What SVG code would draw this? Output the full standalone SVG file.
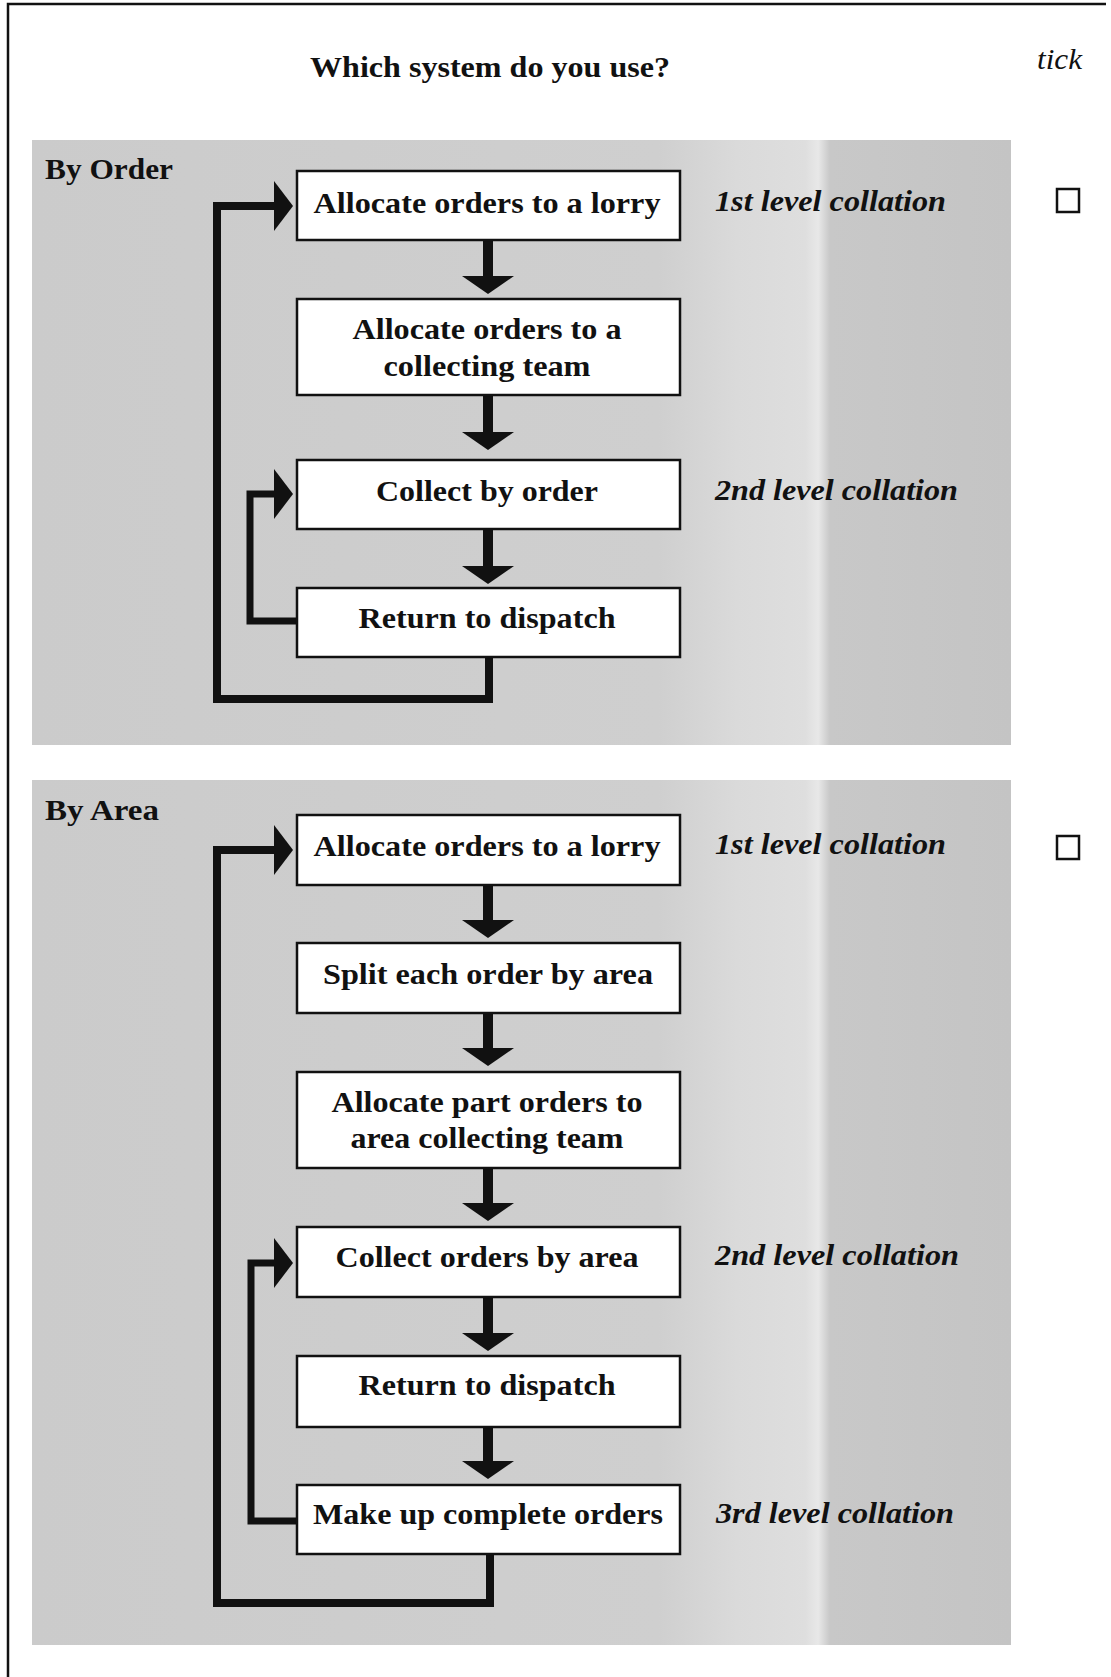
<svg xmlns="http://www.w3.org/2000/svg" width="1111" height="1677" viewBox="0 0 1111 1677">
  <style>
    .frame { fill: none; stroke: #111; stroke-width: 2.5; }
    .panel { fill: url(#shade); }
    .box { fill: #fff; stroke: #111; stroke-width: 2.5; }
    .step { font-family: "Liberation Serif", "Times New Roman", serif; font-weight: bold; font-size: 30px; fill: #111; text-anchor: middle; }
    .head { font-family: "Liberation Serif", "Times New Roman", serif; font-weight: bold; font-size: 29px; fill: #111; }
    .level { font-family: "Liberation Serif", "Times New Roman", serif; font-weight: bold; font-style: italic; font-size: 30px; fill: #111; }
    .tick { font-family: "Liberation Serif", "Times New Roman", serif; font-style: italic; font-size: 29px; fill: #111; }
    .shaft { stroke: #111; stroke-width: 10; fill: none; }
    .loop { stroke: #111; stroke-width: 8; fill: none; stroke-linejoin: miter; }
    .loop-inner { stroke: #111; stroke-width: 7; fill: none; stroke-linejoin: miter; }
    .arrowhead { fill: #111; }
    .checkbox { fill: #fff; stroke: #111; stroke-width: 2.5; }
  </style>
  <defs>
    <linearGradient id="shade" gradientUnits="userSpaceOnUse" x1="32" y1="0" x2="1011" y2="0">
      <stop offset="0" stop-color="#cbcbcb"/>
      <stop offset="0.64" stop-color="#cfcfcf"/>
      <stop offset="0.72" stop-color="#dadada"/>
      <stop offset="0.79" stop-color="#dedede"/>
      <stop offset="0.803" stop-color="#e8e8e8"/>
      <stop offset="0.815" stop-color="#c8c8c8"/>
      <stop offset="1" stop-color="#c4c4c4"/>
    </linearGradient>
    <!-- downward arrowhead, tip at (0,18) -->
    <path id="down-head" class="arrowhead" d="M-26,0 L26,0 L0,18 Z"/>
    <!-- rightward arrowhead, tip at (19,0) -->
    <path id="right-head" class="arrowhead" d="M0,-25 L19,0 L0,25 Z"/>
  </defs>

  <rect width="1111" height="1677" fill="#fff"/>

  <!-- page frame (top and left rules) -->
  <path class="frame" d="M8,1677 V4 H1106"/>

  <text class="head" x="490" y="77" text-anchor="middle" textLength="360" lengthAdjust="spacingAndGlyphs">Which system do you use?</text>
  <text class="tick" x="1037" y="69" textLength="45" lengthAdjust="spacingAndGlyphs">tick</text>

  <!-- shaded panels -->
  <rect class="panel" x="32" y="140" width="979" height="605"/>
  <rect class="panel" x="32" y="780" width="979" height="865"/>

  <!-- ===== By Order ===== -->
  <text class="head" x="45" y="179" textLength="128" lengthAdjust="spacingAndGlyphs">By Order</text>

  <g id="connectors-order">
    <path class="shaft" d="M488,240 V277"/>
    <use href="#down-head" x="488" y="276"/>
    <path class="shaft" d="M488,395 V433"/>
    <use href="#down-head" x="488" y="432"/>
    <path class="shaft" d="M488,529 V566"/>
    <use href="#down-head" x="488" y="566"/>
    <path class="loop" d="M489,657 V699 H217 V206 H276"/>
    <use href="#right-head" x="274" y="206"/>
    <path class="loop-inner" d="M297,621 H250 V494 H276"/>
    <use href="#right-head" x="274" y="494"/>
  </g>

  <g id="order-allocate-lorry">
    <rect class="box" x="297" y="171" width="383" height="69"/>
    <text class="step" x="487" y="213" textLength="347" lengthAdjust="spacingAndGlyphs">Allocate orders to a lorry</text>
  </g>
  <g id="order-allocate-team">
    <rect class="box" x="297" y="299" width="383" height="96"/>
    <text class="step" x="487" y="339" textLength="269" lengthAdjust="spacingAndGlyphs">Allocate orders to a</text>
    <text class="step" x="487" y="376" textLength="207" lengthAdjust="spacingAndGlyphs">collecting team</text>
  </g>
  <g id="order-collect">
    <rect class="box" x="297" y="460" width="383" height="69"/>
    <text class="step" x="487" y="501" textLength="222" lengthAdjust="spacingAndGlyphs">Collect by order</text>
  </g>
  <g id="order-return">
    <rect class="box" x="297" y="588" width="383" height="69"/>
    <text class="step" x="487" y="628" textLength="257" lengthAdjust="spacingAndGlyphs">Return to dispatch</text>
  </g>

  <text class="level" x="715" y="211" textLength="231" lengthAdjust="spacingAndGlyphs">1st level collation</text>
  <text class="level" x="715" y="500" textLength="243" lengthAdjust="spacingAndGlyphs">2nd level collation</text>
  <rect class="checkbox" x="1057" y="189" width="22" height="23"/>

  <!-- ===== By Area ===== -->
  <text class="head" x="45" y="820" textLength="114" lengthAdjust="spacingAndGlyphs">By Area</text>

  <g id="connectors-area">
    <path class="shaft" d="M488,885 V921"/>
    <use href="#down-head" x="488" y="920"/>
    <path class="shaft" d="M488,1013 V1049"/>
    <use href="#down-head" x="488" y="1048"/>
    <path class="shaft" d="M488,1168 V1204"/>
    <use href="#down-head" x="488" y="1203"/>
    <path class="shaft" d="M488,1297 V1334"/>
    <use href="#down-head" x="488" y="1333"/>
    <path class="shaft" d="M488,1427 V1462"/>
    <use href="#down-head" x="488" y="1461"/>
    <path class="loop" d="M490,1554 V1603 H217 V850 H276"/>
    <use href="#right-head" x="274" y="850"/>
    <path class="loop-inner" d="M297,1521 H251 V1263 H276"/>
    <use href="#right-head" x="274" y="1263"/>
  </g>

  <g id="area-allocate-lorry">
    <rect class="box" x="297" y="815" width="383" height="70"/>
    <text class="step" x="487" y="856" textLength="347" lengthAdjust="spacingAndGlyphs">Allocate orders to a lorry</text>
  </g>
  <g id="area-split">
    <rect class="box" x="297" y="943" width="383" height="70"/>
    <text class="step" x="488" y="984" textLength="330" lengthAdjust="spacingAndGlyphs">Split each order by area</text>
  </g>
  <g id="area-allocate-team">
    <rect class="box" x="297" y="1072" width="383" height="96"/>
    <text class="step" x="487" y="1112" textLength="311" lengthAdjust="spacingAndGlyphs">Allocate part orders to</text>
    <text class="step" x="487" y="1148" textLength="273" lengthAdjust="spacingAndGlyphs">area collecting team</text>
  </g>
  <g id="area-collect">
    <rect class="box" x="297" y="1227" width="383" height="70"/>
    <text class="step" x="487" y="1267" textLength="303" lengthAdjust="spacingAndGlyphs">Collect orders by area</text>
  </g>
  <g id="area-return">
    <rect class="box" x="297" y="1356" width="383" height="71"/>
    <text class="step" x="487" y="1395" textLength="257" lengthAdjust="spacingAndGlyphs">Return to dispatch</text>
  </g>
  <g id="area-make-up">
    <rect class="box" x="297" y="1485" width="383" height="69"/>
    <text class="step" x="488" y="1524" textLength="350" lengthAdjust="spacingAndGlyphs">Make up complete orders</text>
  </g>

  <text class="level" x="715" y="854" textLength="231" lengthAdjust="spacingAndGlyphs">1st level collation</text>
  <text class="level" x="715" y="1265" textLength="244" lengthAdjust="spacingAndGlyphs">2nd level collation</text>
  <text class="level" x="716" y="1523" textLength="238" lengthAdjust="spacingAndGlyphs">3rd level collation</text>
  <rect class="checkbox" x="1057" y="836" width="22" height="23"/>
</svg>
